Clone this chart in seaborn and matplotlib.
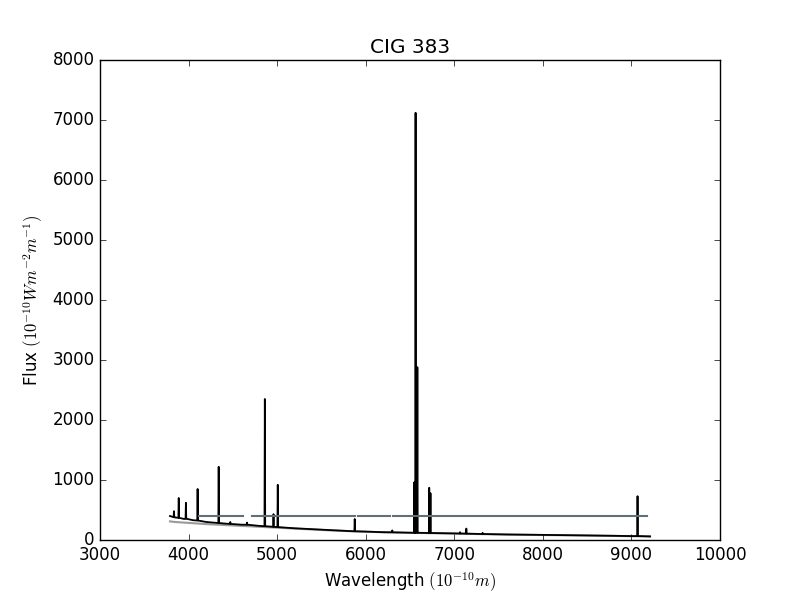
import numpy as np
import pandas as pd
import seaborn as sns
import matplotlib
matplotlib.use("Agg")
import matplotlib.pyplot as plt

cont_wl = [3790, 3850, 3950, 4050, 4200, 4400, 4600, 4800, 5000, 5200, 5400, 5600,
           5800, 6000, 6200, 6400, 6600, 6800, 7000, 7300, 7600, 8000, 8400, 8800,
           9000, 9210]
cont_flux = [400, 375, 350, 330, 300, 275, 255, 235, 215, 195, 180, 165,
             150, 140, 130, 125, 120, 115, 110, 100, 92, 85, 78, 70,
             65, 60]

# emission lines: wavelength, local base, peak
line_wl = [3835, 3889, 3970, 4102, 4340, 4471, 4660, 4861, 4959, 5007, 5876, 6300,
           6548, 6563, 6583, 6717, 6731, 7065, 7136, 7320, 9069]
line_base = [380, 370, 355, 325, 283, 268, 255, 230, 220, 215, 145, 128,
             120, 120, 120, 117, 117, 108, 106, 100, 66]
line_peak = [480, 700, 620, 850, 1220, 300, 290, 2350, 430, 920, 350, 160,
             960, 7120, 2880, 870, 780, 130, 190, 120, 730]

# model continuum (grey)
model_wl = cont_wl
model_flux = [310, 300, 290, 280, 265, 250, 235, 220, 205, 190, 175, 160,
              148, 138, 128, 122, 117, 112, 106, 98, 90, 83, 76, 68,
              63, 58]

# fitted level with masked regions
level_wl = [4120, 4614, 4715, 5878, 5912, 6273, 6307, 9175]
level_seg = [0, 0, 1, 1, 2, 2, 3, 3]
level_flux = 400

# build the spectrum table: continuum points plus a narrow spike per line
rows = list(zip(cont_wl, cont_flux))
for w, b, p in zip(line_wl, line_base, line_peak):
    rows += [(w - 4, b), (w, p), (w + 4, b)]
spec = pd.DataFrame(rows, columns=["wl", "flux"]).sort_values("wl")

level = pd.DataFrame({"wl": level_wl, "seg": level_seg})
level["flux"] = level_flux

plt.style.use("classic")
plt.rcParams["figure.facecolor"] = "white"
plt.rcParams["savefig.facecolor"] = "white"

fig, ax = plt.subplots(figsize=(8, 6), dpi=100)

sns.lineplot(x=model_wl, y=model_flux, color="#9a9a9a", lw=1.5, ax=ax,
             estimator=None, sort=False, legend=False)
sns.lineplot(data=spec, x="wl", y="flux", color="black", lw=1.3, ax=ax,
             estimator=None, sort=False, legend=False)
sns.lineplot(data=level, x="wl", y="flux", units="seg", color="#5f7078", lw=1.5,
             ax=ax, estimator=None, sort=False, legend=False)

ax.set_xlim(3000, 10000)
ax.set_ylim(0, 8000)
ax.set_xticks(range(3000, 10001, 1000))
ax.set_yticks(range(0, 8001, 1000))
ax.set_title("CIG 383")
ax.set_xlabel(r"Wavelength $(10^{-10} m)$")
ax.set_ylabel(r"Flux $(10^{-10} W m^{-2} m^{-1})$")

fig.subplots_adjust(left=0.125, right=0.9, bottom=0.1, top=0.9)
fig.savefig("out.png", dpi=100)
